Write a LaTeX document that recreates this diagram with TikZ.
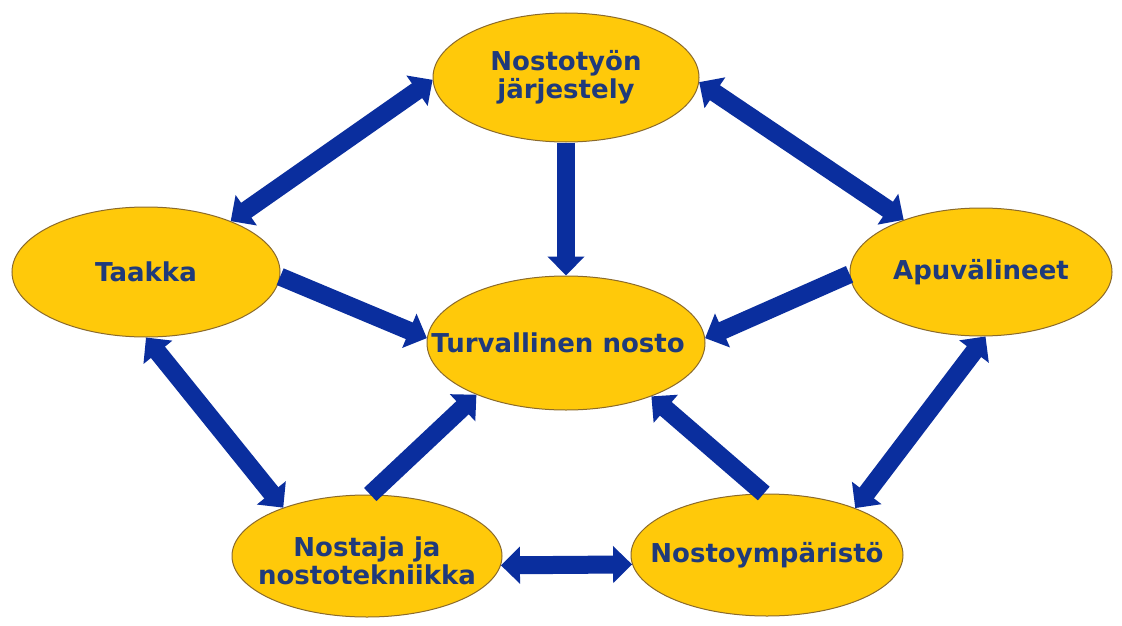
\documentclass[tikz,border=0pt]{standalone}
\usepackage{fontspec}
\setmainfont{DejaVu Sans}
\usetikzlibrary{arrows.meta,shapes.geometric}
\definecolor{ellfill}{HTML}{FFC90A}
\definecolor{ellline}{HTML}{8B6A2B}
\definecolor{txtcol}{HTML}{1F3A7B}
\definecolor{arrcol}{HTML}{0A2E9E}
\begin{document}
\begin{tikzpicture}[x=1pt,y=-1pt,
  oval/.style={ellipse,draw=ellline,line width=1pt,fill=ellfill,inner sep=0pt},
  lbl/.style={text=txtcol,font=\fontsize{26}{28}\selectfont\bfseries,align=center,inner sep=0pt},
  bigarrow/.style={draw=arrcol,line width=18pt,
    -{Triangle[width=36pt,length=19pt]}},
  bigdarrow/.style={draw=arrcol,line width=18pt,
    {Triangle[width=36pt,length=19pt]}-{Triangle[width=36pt,length=19pt]}}]
\useasboundingbox (0,0) rectangle (1122,626);
\fill[white] (0,0) rectangle (1122,626);
\node[oval,minimum width=266pt,minimum height=129pt,label={[lbl]center:Nostotyön\\järjestely}] (nt) at (566,77.5) {};
\node[oval,minimum width=268pt,minimum height=130pt,label={[lbl]center:Taakka}] (nl) at (146,272) {};
\node[oval,minimum width=262pt,minimum height=128pt,label={[lbl]center:Apuvälineet}] (nr) at (981,272) {};
\node[oval,minimum width=278pt,minimum height=134pt,label={[lbl,xshift=-8pt]center:Turvallinen nosto}] (nc) at (566,343) {};
\node[oval,minimum width=270pt,minimum height=122pt,label={[lbl,yshift=-5pt]center:Nostaja ja\\nostotekniikka}] (nbl) at (367,556) {};
\node[oval,minimum width=272pt,minimum height=122pt,label={[lbl]center:Nostoympäristö}] (nbr) at (767,555) {};
\draw[bigdarrow] (nt.181.5) -- (nl.31.2);
\draw[bigdarrow] (nt.358.9) -- (nr.146.3);
\draw[bigarrow] (nt.270) -- (nc.90);
\draw[bigarrow] (nl.358.3) -- (nc.178.7);
\draw[bigarrow] (nr.181.3) -- (nc.2.1);
\draw[bigdarrow] (nl.270) -- (nbl.150.9);
\draw[bigdarrow] (nr.274.9) -- (nbr.28.3);
\draw[bigarrow] (nbl.87.2) -- (nc.210.6);
\draw[bigarrow] (nbr.93.8) -- (nc.328.2);
\draw[bigdarrow] (nbl.356.2) -- (nbr.184.2);
\end{tikzpicture}
\end{document}
